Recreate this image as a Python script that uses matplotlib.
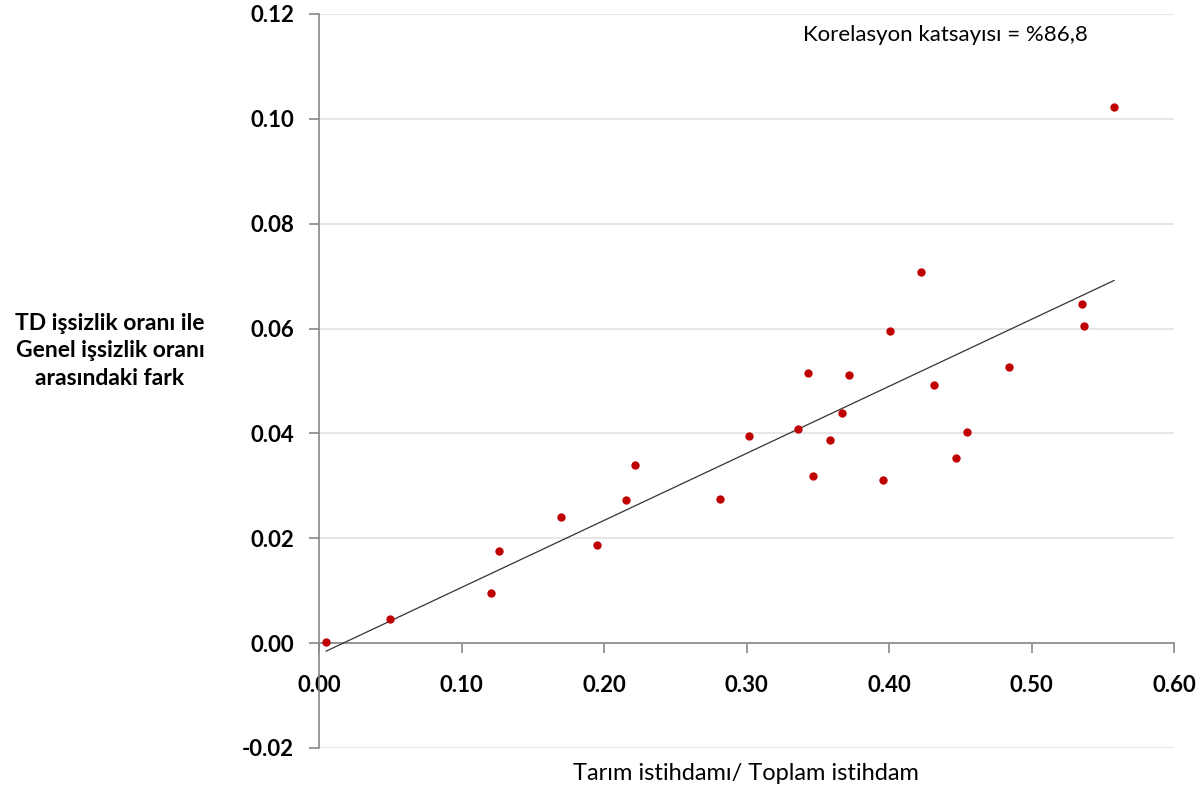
import numpy as np
import matplotlib
matplotlib.use('Agg')
import matplotlib.pyplot as plt

plt.rcParams['font.family'] = ['Lato', 'DejaVu Sans']

# tarim istihdami / toplam istihdam
tarim_orani = [0.005, 0.050, 0.121, 0.1265, 0.170, 0.195, 0.2157, 0.222, 0.2812, 0.3015,
               0.336, 0.343, 0.3465, 0.3586, 0.3673, 0.372, 0.396, 0.4007, 0.4222, 0.4313,
               0.4473, 0.4545, 0.4842, 0.5354, 0.5368, 0.5579]
# TD issizlik orani - genel issizlik orani
issizlik_farki = [0.0002, 0.0046, 0.0095, 0.0175, 0.0241, 0.0188, 0.0273, 0.0340, 0.0275, 0.0396,
                  0.0409, 0.0515, 0.0319, 0.0387, 0.0439, 0.0511, 0.0312, 0.0596, 0.0708, 0.0493,
                  0.0353, 0.0402, 0.0527, 0.0646, 0.0605, 0.1023]

x_ticks = [0.0, 0.1, 0.2, 0.3, 0.4, 0.5, 0.6]
y_ticks = [-0.02, 0.0, 0.02, 0.04, 0.06, 0.08, 0.10, 0.12]

fig = plt.figure(figsize=(12, 7.92), dpi=100)
ax = fig.add_axes([319/1200, 1-748/792, (1174-319)/1200, (748-14)/792])

x = np.array(tarim_orani)
y = np.array(issizlik_farki)

# trend line
m, b = np.polyfit(x, y, 1)
xt = np.array([x.min(), x.max()])
ax.plot(xt, m*xt + b, color='#333333', lw=0.9, zorder=3)

ax.scatter(x, y, s=36, color='#C00000', zorder=4, linewidths=0)

ax.spines['top'].set_visible(False)
ax.spines['right'].set_visible(False)
ax.spines['bottom'].set_position(('data', 0))
for s in ['left', 'bottom']:
    ax.spines[s].set_color('#888888')
    ax.spines[s].set_linewidth(1.2)

ax.set_xlim(0, 0.6)
ax.set_ylim(-0.02, 0.12)
ax.set_xticks(x_ticks)
ax.set_yticks(y_ticks)
ax.set_xticklabels([f'{v:.2f}' for v in x_ticks], fontsize=16, fontweight='bold')
ax.set_yticklabels([f'{v:.2f}' for v in y_ticks], fontsize=16, fontweight='bold')
ax.tick_params(axis='both', direction='out', length=7, color='#888888', width=1.2)
ax.tick_params(axis='x', pad=16)
ax.tick_params(axis='y', pad=11)

ax.yaxis.grid(True, color='#E3E3E3', lw=1.2)
ax.set_axisbelow(True)

fig.text(110/1200, 1-351/792, 'TD işsizlik oranı ile\nGenel işsizlik oranı\narasındaki fark',
         ha='center', va='center', fontsize=16.5, fontweight='bold', linespacing=1.4,
         multialignment='center')
fig.text(746/1200, 1-773/792, 'Tarım istihdamı/ Toplam istihdam', ha='center', va='center',
         fontsize=17)
fig.text(945/1200, 1-35/792, 'Korelasyon katsayısı = %86,8', ha='center', va='center',
         fontsize=16)

fig.savefig('out.png', dpi=100)
